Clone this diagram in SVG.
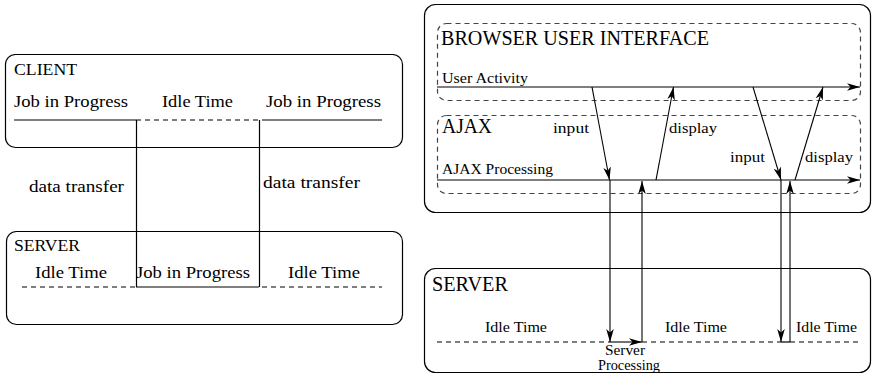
<svg xmlns="http://www.w3.org/2000/svg" width="872" height="374" viewBox="0 0 872 374">
<style>
.box{fill:none;stroke:#000;stroke-width:1.2}
.dbox{fill:none;stroke:#444;stroke-width:1.2;stroke-dasharray:5 4}
.solid{fill:none;stroke:#000;stroke-width:1.2}
.dash{fill:none;stroke:#000;stroke-width:1.2;stroke-dasharray:5 4}
.arr{fill:none;stroke:#000;stroke-width:1.1;marker-end:url(#ah)}
.t15{font-size:16px;font-family:'Liberation Serif',serif;fill:#000}
.t20{font-size:21px;font-family:'Liberation Serif',serif;fill:#000}
.t13{font-size:14px;font-family:'Liberation Serif',serif;fill:#000}
</style>
<defs>
<marker id="ah" viewBox="-13 -5 14 10" refX="0" refY="0" markerWidth="14" markerHeight="10" markerUnits="userSpaceOnUse" orient="auto">
<path d="M-13,-3.8 L0,0 L-13,3.8 L-9.5,0 z" fill="#000"/>
</marker>
</defs>
<rect width="872" height="374" fill="#fff"/>
<g id="client">
<rect class="box" x="5.5" y="54.5" width="397" height="93" rx="10"/>
<text class="t15" font-family="Liberation Serif" x="14" y="75" textLength="63" lengthAdjust="spacingAndGlyphs">CLIENT</text>
<text class="t15" font-family="Liberation Serif" x="14" y="107" textLength="114" lengthAdjust="spacingAndGlyphs">Job in Progress</text>
<text class="t15" font-family="Liberation Serif" x="162" y="107" textLength="71" lengthAdjust="spacingAndGlyphs">Idle Time</text>
<text class="t15" font-family="Liberation Serif" x="266" y="107" textLength="115" lengthAdjust="spacingAndGlyphs">Job in Progress</text>
<line class="solid" x1="14" y1="120" x2="136" y2="120"/>
<line class="dash" x1="136" y1="120" x2="262" y2="120"/>
<line class="solid" x1="262" y1="120" x2="382" y2="120"/>
</g>

<g id="server-left">
<rect class="box" x="6.5" y="231.5" width="396" height="93" rx="10"/>
<text class="t15" font-family="Liberation Serif" x="14" y="251" textLength="66" lengthAdjust="spacingAndGlyphs">SERVER</text>
<text class="t15" font-family="Liberation Serif" x="35" y="278" textLength="72" lengthAdjust="spacingAndGlyphs">Idle Time</text>
<text class="t15" font-family="Liberation Serif" x="136" y="278" textLength="114" lengthAdjust="spacingAndGlyphs">Job in Progress</text>
<text class="t15" font-family="Liberation Serif" x="288" y="278" textLength="72" lengthAdjust="spacingAndGlyphs">Idle Time</text>
<line class="dash" x1="22" y1="287" x2="136" y2="287"/>
<line class="solid" x1="136" y1="287" x2="259" y2="287"/>
<line class="dash" x1="262" y1="287" x2="382" y2="287"/>
</g>

<g id="browser-outer">
<rect class="box" x="424.5" y="4.5" width="446" height="208" rx="11"/>
</g>

<g id="browser-ui">
<rect class="dbox" x="437.5" y="23.5" width="423" height="77" rx="9"/>
<text class="t20" font-family="Liberation Serif" x="441" y="45" textLength="268" lengthAdjust="spacingAndGlyphs">BROWSER USER INTERFACE</text>
<text class="t13" font-family="Liberation Serif" x="442" y="83" textLength="86" lengthAdjust="spacingAndGlyphs">User Activity</text>
</g>

<g id="ajax">
<rect class="dbox" x="437.5" y="115.5" width="423" height="78" rx="9"/>
<text class="t20" font-family="Liberation Serif" x="442" y="133" textLength="50" lengthAdjust="spacingAndGlyphs">AJAX</text>
<text class="t13" font-family="Liberation Serif" x="442" y="174" textLength="111" lengthAdjust="spacingAndGlyphs">AJAX Processing</text>
</g>

<g id="server-right">
<rect class="box" x="424.5" y="268.5" width="446" height="104" rx="11"/>
<text class="t20" font-family="Liberation Serif" x="432" y="291" textLength="76" lengthAdjust="spacingAndGlyphs">SERVER</text>
<text class="t13" font-family="Liberation Serif" x="485" y="332" textLength="62" lengthAdjust="spacingAndGlyphs">Idle Time</text>
<text class="t13" font-family="Liberation Serif" x="665" y="332" textLength="62" lengthAdjust="spacingAndGlyphs">Idle Time</text>
<text class="t13" font-family="Liberation Serif" x="796" y="332" textLength="61" lengthAdjust="spacingAndGlyphs">Idle Time</text>
<line class="dash" x1="437" y1="342" x2="610" y2="342"/>
<line class="dash" x1="642" y1="342" x2="781" y2="342"/>
<line class="dash" x1="790" y1="342" x2="862" y2="342"/>
<text class="t13" font-family="Liberation Serif" x="625" y="355" text-anchor="middle" textLength="40" lengthAdjust="spacingAndGlyphs">Server</text>
<text class="t13" font-family="Liberation Serif" x="629" y="370" text-anchor="middle" textLength="62" lengthAdjust="spacingAndGlyphs">Processing</text>
</g>

<g id="connectors">
<line class="solid" x1="136.5" y1="120" x2="136.5" y2="287"/>
<line class="solid" x1="259.5" y1="120" x2="259.5" y2="287"/>
<text class="t15" font-family="Liberation Serif" x="29" y="192" textLength="95" lengthAdjust="spacingAndGlyphs">data transfer</text>
<text class="t15" font-family="Liberation Serif" x="263" y="188" textLength="97" lengthAdjust="spacingAndGlyphs">data transfer</text>

<line class="arr" x1="437" y1="87" x2="860" y2="87"/>
<line class="arr" x1="437" y1="180" x2="860" y2="180"/>

<line class="arr" x1="592" y1="87" x2="609.5" y2="180"/>
<line class="arr" x1="656" y1="180" x2="673.5" y2="87"/>
<line class="arr" x1="753" y1="87" x2="781" y2="180"/>
<line class="arr" x1="795" y1="180" x2="823" y2="87"/>

<line class="arr" x1="610" y1="180" x2="610" y2="342"/>
<line class="arr" x1="610" y1="342" x2="642" y2="342"/>
<line class="arr" x1="642" y1="342" x2="642" y2="181"/>
<line class="arr" x1="781" y1="180" x2="781" y2="342"/>
<line class="solid" x1="781" y1="342" x2="790" y2="342"/>
<line class="arr" x1="790" y1="342" x2="790" y2="181"/>

<text class="t13" font-family="Liberation Serif" x="553" y="133" textLength="36" lengthAdjust="spacingAndGlyphs">input</text>
<text class="t13" font-family="Liberation Serif" x="669" y="133" textLength="48" lengthAdjust="spacingAndGlyphs">display</text>
<text class="t13" font-family="Liberation Serif" x="730" y="162" textLength="35" lengthAdjust="spacingAndGlyphs">input</text>
<text class="t13" font-family="Liberation Serif" x="805" y="162" textLength="48" lengthAdjust="spacingAndGlyphs">display</text>
</g>
</svg>
